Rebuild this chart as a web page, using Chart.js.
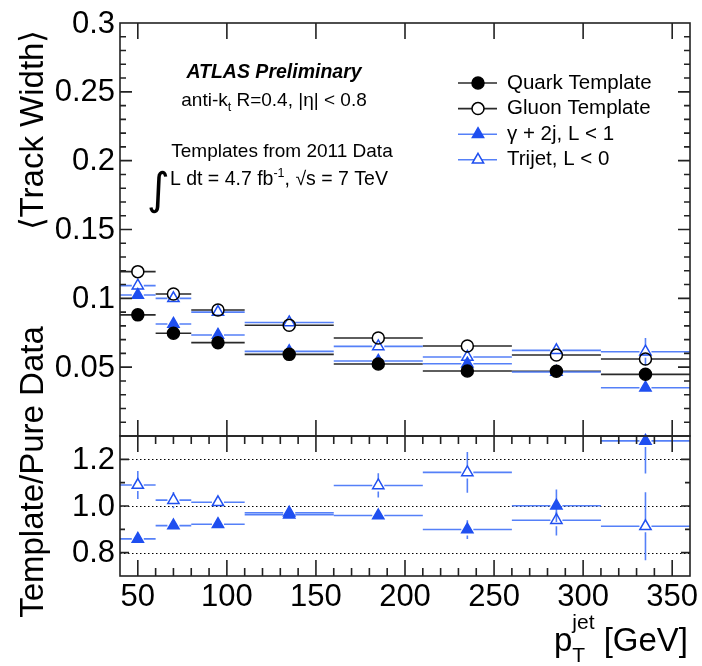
<!DOCTYPE html>
<html lang="en">
<head>
<meta charset="UTF-8">
<title>Track Width vs jet pT</title>
<script src="https://cdn.jsdelivr.net/npm/chart.js@4.4.1/dist/chart.umd.min.js"></script>
<style>
  html, body { margin: 0; padding: 0; background: #fff; }
  #wrap { position: relative; width: 702px; height: 666px; }
  #wrap canvas { position: absolute; left: 0; top: 0; }
</style>
</head>
<body>
<div id="wrap">
  <canvas id="mainChart" width="702" height="666"></canvas>
  <canvas id="ratioChart" width="702" height="666"></canvas>
</div>
<script>
// ---- jet pT binning [GeV] ----
const binLow  = [40, 60, 80, 110, 160, 210, 260, 310];
const binHigh = [60, 80, 110, 160, 210, 260, 310, 360];
const ptCenters = [50, 70, 95, 135, 185, 235, 285, 335];

// ---- <Track Width> per bin ----
const quarkWidth  = [0.0880, 0.0746, 0.0678, 0.0593, 0.0523, 0.0472, 0.0470, 0.0448];
const quarkErr    = [0.0008, 0.0008, 0.0008, 0.0008, 0.0008, 0.0010, 0.0012, 0.0015];
const gluonWidth  = [0.1194, 0.1031, 0.0915, 0.0804, 0.0712, 0.0654, 0.0588, 0.0559];
const gluonErr    = [0.0010, 0.0010, 0.0010, 0.0010, 0.0012, 0.0015, 0.0020, 0.0030];
const gammaWidth  = [0.1024, 0.0814, 0.0734, 0.0615, 0.0545, 0.0525, 0.0465, 0.0351];
const gammaErr    = [0.0010, 0.0010, 0.0010, 0.0010, 0.0012, 0.0015, 0.0020, 0.0025];
const trijetWidth = [0.1092, 0.1000, 0.0900, 0.0825, 0.0651, 0.0574, 0.0622, 0.0612];
const trijetErr   = [0.0020, 0.0012, 0.0010, 0.0015, 0.0020, 0.0030, 0.0040, 0.0100];

// ---- ratio Template / Pure Data ----
const gammaRatio     = [0.859, 0.916, 0.922, 0.963, 0.959, 0.899, 1.001, 1.279];
const gammaRatioErr  = [0.015, 0.015, 0.015, 0.012, 0.020, 0.040, 0.070, 0.140];
const trijetRatio    = [1.090, 1.025, 1.016, 0.971, 1.088, 1.144, 0.939, 0.913];
const trijetRatioErr = [0.060, 0.035, 0.015, 0.020, 0.052, 0.087, 0.065, 0.146];

// ---- tick labels ----
const xTickValues = [50, 100, 150, 200, 250, 300, 350];
const xTickLabels = ['50', '100', '150', '200', '250', '300', '350'];
const yTickValues = [0.05, 0.1, 0.15, 0.2, 0.25, 0.3];
const yTickLabels = ['0.05', '0.1', '0.15', '0.2', '0.25', '0.3'];
const ratioTickValues = [0.8, 1.0, 1.2];
const ratioTickLabels = ['0.8', '1.0', '1.2'];

const FONT = '"Liberation Sans", Arial, Helvetica, sans-serif';
const BLACK = '#000';
const BLACK_LINE = '#2a2a2a';
const BLUE = '#1f4ff0';
const BLUE_LINE = '#5580f8';
const FRAME = '#222';

const makePoints = (values, errors) =>
  ptCenters.map((x, i) => ({ x, y: values[i], xlo: binLow[i], xhi: binHigh[i], yerr: errors[i] }));

const makeDataset = (label, values, errors, style, filled, color, lineColor, radius) => ({
  label,
  data: makePoints(values, errors),
  pointStyle: style,
  pointRadius: radius,
  pointBorderWidth: 1.5,
  pointBorderColor: color,
  pointBackgroundColor: filled ? color : 'rgba(0,0,0,0)',
  errColor: lineColor,
  clip: 12
});

// error bars (bin width + stat error), drawn under the markers with a gap like ROOT
const errorBars = {
  id: 'errorBars',
  beforeDatasetsDraw(chart) {
    const { ctx, chartArea: a } = chart;
    const xs = chart.scales.x, ys = chart.scales.y;
    ctx.save();
    ctx.beginPath();
    ctx.rect(a.left, a.top, a.right - a.left, a.bottom - a.top);
    ctx.clip();
    chart.data.datasets.forEach(ds => {
      const gap = ds.pointRadius - 0.5;
      ctx.strokeStyle = ds.errColor;
      ctx.lineWidth = 1.6;
      ds.data.forEach(p => {
        const cx = xs.getPixelForValue(p.x), cy = ys.getPixelForValue(p.y);
        const x0 = xs.getPixelForValue(p.xlo), x1 = xs.getPixelForValue(p.xhi);
        const yTop = ys.getPixelForValue(p.y + p.yerr), yBot = ys.getPixelForValue(p.y - p.yerr);
        ctx.beginPath();
        ctx.moveTo(x0, cy); ctx.lineTo(cx - gap, cy);
        ctx.moveTo(cx + gap, cy); ctx.lineTo(x1, cy);
        if (cy - yTop > gap) { ctx.moveTo(cx, yTop); ctx.lineTo(cx, cy - gap); }
        if (yBot - cy > gap) { ctx.moveTo(cx, cy + gap); ctx.lineTo(cx, yBot); }
        ctx.stroke();
      });
    });
    ctx.restore();
  }
};

// draw a run of text pieces [{t, size, dy}] starting at x
const drawPieces = (ctx, pieces, x, y, align) => {
  const widths = pieces.map(p => {
    ctx.font = `${p.style || ''} ${p.size}px ${p.family || FONT}`;
    return p.advance === 0 ? 0 : ctx.measureText(p.t).width;
  });
  const total = widths.reduce((s, w) => s + w, 0);
  let cx = align === 'center' ? x - total / 2 : align === 'right' ? x - total : x;
  ctx.textAlign = 'left';
  ctx.textBaseline = 'alphabetic';
  pieces.forEach((p, i) => {
    ctx.font = `${p.style || ''} ${p.size}px ${p.family || FONT}`;
    ctx.fillText(p.t, cx + (p.dx || 0), y + (p.dy || 0));
    cx += widths[i];
  });
};

const drawRotated = (ctx, text, x, y, size) => {
  ctx.save();
  ctx.translate(x, y);
  ctx.rotate(-Math.PI / 2);
  ctx.font = `${size}px ${FONT}`;
  ctx.textAlign = 'center';
  ctx.textBaseline = 'alphabetic';
  ctx.fillText(text, 0, 0);
  ctx.restore();
};

const legendEntries = [
  { label: 'Quark Template', style: 'circle', filled: true, color: BLACK, line: BLACK_LINE, r: 6 },
  { label: 'Gluon Template', style: 'circle', filled: false, color: BLACK, line: BLACK_LINE, r: 6 },
  { label: '\u03b3 + 2j, L < 1', style: 'triangle', filled: true, color: BLUE, line: BLUE_LINE, r: 6.5 },
  { label: 'Trijet, L < 0', style: 'triangle', filled: false, color: BLUE, line: BLUE_LINE, r: 6.5 }
];

const topDecor = {
  id: 'topDecor',
  afterDraw(chart) {
    const { ctx, chartArea: a } = chart;
    const xs = chart.scales.x, ys = chart.scales.y;
    ctx.save();
    ctx.strokeStyle = FRAME;
    ctx.lineWidth = 1.6;
    ctx.strokeRect(a.left, a.top, a.right - a.left, a.bottom - a.top);

    ctx.beginPath();
    xTickValues.forEach(v => {
      const px = xs.getPixelForValue(v);
      ctx.moveTo(px, a.top); ctx.lineTo(px, a.top + 16);
      ctx.moveTo(px, a.bottom); ctx.lineTo(px, a.bottom - 16);
    });
    for (let k = 1; k < 30; k++) {
      const py = ys.getPixelForValue(k * 0.01);
      const len = k % 5 === 0 ? 12 : 6;
      ctx.moveTo(a.left, py); ctx.lineTo(a.left + len, py);
      ctx.moveTo(a.right, py); ctx.lineTo(a.right - len, py);
    }
    ctx.stroke();

    ctx.fillStyle = '#000';
    ctx.font = `31px ${FONT}`;
    ctx.textAlign = 'right';
    ctx.textBaseline = 'middle';
    yTickValues.forEach((v, i) => ctx.fillText(yTickLabels[i], 115, ys.getPixelForValue(v) + 1));

    drawRotated(ctx, '\u27e8Track Width\u27e9', 43, 130, 33);

    // annotation block
    ctx.textAlign = 'center';
    ctx.textBaseline = 'alphabetic';
    ctx.font = `italic bold 19.5px ${FONT}`;
    ctx.fillText('ATLAS Preliminary', 274, 78);
    drawPieces(ctx, [
      { t: 'anti-k', size: 19 },
      { t: 't', size: 12.5, dy: 5 },
      { t: ' R=0.4, |\u03b7| < 0.8', size: 19 }
    ], 274, 106, 'center');
    ctx.textAlign = 'center';
    ctx.font = `19px ${FONT}`;
    ctx.fillText('Templates from 2011 Data', 282, 157);
    drawPieces(ctx, [
      { t: '\u222b', size: 44, dy: 19, family: '"DejaVu Sans", sans-serif' },
      { t: 'L dt = 4.7 fb', size: 19.5 },
      { t: '-1', size: 12.5, dy: -8 },
      { t: ', \u221as = 7 TeV', size: 19.5 }
    ], 147, 185, 'left');

    // legend
    legendEntries.forEach((e, i) => {
      const ly = 83 + i * 25.6;
      ctx.strokeStyle = e.line;
      ctx.lineWidth = 1.6;
      ctx.beginPath();
      ctx.moveTo(458, ly); ctx.lineTo(497, ly);
      ctx.stroke();
      ctx.fillStyle = e.filled ? e.color : '#fff';
      ctx.strokeStyle = e.color;
      ctx.lineWidth = 1.5;
      Chart.helpers.drawPoint(ctx, { pointStyle: e.style, radius: e.r, borderWidth: 1.5, rotation: 0 }, 478, ly);
      ctx.fillStyle = '#000';
      ctx.font = `20.5px ${FONT}`;
      ctx.textAlign = 'left';
      ctx.textBaseline = 'middle';
      ctx.fillText(e.label, 507, ly);
    });
    ctx.restore();
  }
};

const ratioDecor = {
  id: 'ratioDecor',
  beforeDatasetsDraw(chart) {
    const { ctx, chartArea: a } = chart;
    const ys = chart.scales.y;
    ctx.save();
    ctx.strokeStyle = '#000';
    ctx.lineWidth = 1;
    ctx.setLineDash([1.5, 2.5]);
    ctx.beginPath();
    ratioTickValues.forEach(v => {
      const py = Math.round(ys.getPixelForValue(v)) + 0.5;
      ctx.moveTo(a.left, py); ctx.lineTo(a.right, py);
    });
    ctx.stroke();
    ctx.restore();
  },
  afterDraw(chart) {
    const { ctx, chartArea: a } = chart;
    const xs = chart.scales.x, ys = chart.scales.y;
    ctx.save();
    ctx.strokeStyle = FRAME;
    ctx.lineWidth = 1.6;
    ctx.strokeRect(a.left, a.top, a.right - a.left, a.bottom - a.top);

    ctx.beginPath();
    for (let v = 50; v < 360; v += 10) {
      const px = xs.getPixelForValue(v);
      const len = v % 50 === 0 ? 16 : 8;
      ctx.moveTo(px, a.top); ctx.lineTo(px, a.top + len);
      ctx.moveTo(px, a.bottom); ctx.lineTo(px, a.bottom - len);
    }
    for (let k = 8; k <= 12; k++) {
      const py = ys.getPixelForValue(k / 10);
      const len = k % 2 === 0 ? 9 : 5;
      ctx.moveTo(a.left, py); ctx.lineTo(a.left + len, py);
      ctx.moveTo(a.right, py); ctx.lineTo(a.right - len, py);
    }
    ctx.stroke();

    ctx.fillStyle = '#000';
    ctx.font = `31px ${FONT}`;
    ctx.textAlign = 'right';
    ctx.textBaseline = 'middle';
    ratioTickValues.forEach((v, i) => ctx.fillText(ratioTickLabels[i], 115, ys.getPixelForValue(v) + 1));

    ctx.textAlign = 'center';
    ctx.textBaseline = 'alphabetic';
    xTickValues.forEach((v, i) => ctx.fillText(xTickLabels[i], xs.getPixelForValue(v), 606));

    drawRotated(ctx, 'Template/Pure Data', 43, 472, 33);

    drawPieces(ctx, [
      { t: 'p', size: 33 },
      { t: 'T', size: 21, dy: 11, advance: 0 },
      { t: 'jet', size: 21, dy: -22 },
      { t: ' [GeV]', size: 33 }
    ], 688, 651, 'right');
    ctx.restore();
  }
};

const baseOptions = (padding, yMin, yMax) => ({
  responsive: false,
  animation: false,
  devicePixelRatio: 1,
  events: [],
  layout: { padding },
  scales: {
    x: { type: 'linear', min: 40, max: 360, display: false },
    y: { type: 'linear', min: yMin, max: yMax, display: false }
  },
  plugins: { legend: { display: false }, tooltip: { enabled: false }, title: { display: false } }
});

new Chart(document.getElementById('mainChart'), {
  type: 'scatter',
  data: {
    datasets: [
      makeDataset('Quark Template', quarkWidth, quarkErr, 'circle', true, BLACK, BLACK_LINE, 6),
      makeDataset('Gluon Template', gluonWidth, gluonErr, 'circle', false, BLACK, BLACK_LINE, 6),
      makeDataset('\u03b3 + 2j, L < 1', gammaWidth, gammaErr, 'triangle', true, BLUE, BLUE_LINE, 6.5),
      makeDataset('Trijet, L < 0', trijetWidth, trijetErr, 'triangle', false, BLUE, BLUE_LINE, 6.5)
    ]
  },
  options: baseOptions({ left: 120, right: 12, top: 23, bottom: 230 }, 0, 0.3),
  plugins: [errorBars, topDecor]
});

new Chart(document.getElementById('ratioChart'), {
  type: 'scatter',
  data: {
    datasets: [
      makeDataset('\u03b3 + 2j, L < 1', gammaRatio, gammaRatioErr, 'triangle', true, BLUE, BLUE_LINE, 6.5),
      makeDataset('Trijet, L < 0', trijetRatio, trijetRatioErr, 'triangle', false, BLUE, BLUE_LINE, 6.5)
    ]
  },
  options: baseOptions({ left: 120, right: 12, top: 436, bottom: 90 }, 0.7, 1.3),
  plugins: [ratioDecor, errorBars]
});
</script>
</body>
</html>
